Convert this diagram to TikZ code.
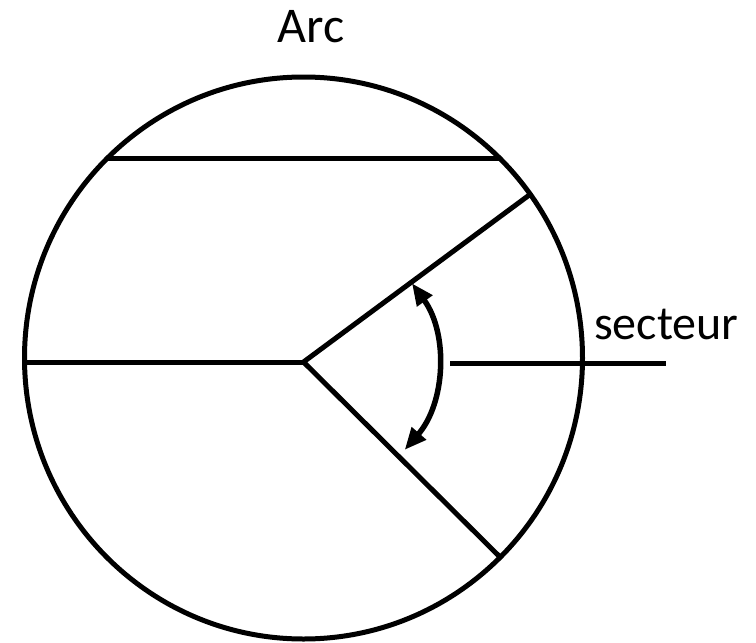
\documentclass[tikz,border=0pt]{standalone}
\usepackage{fontspec}
\setmainfont{Carlito}
\usetikzlibrary{arrows.meta}
\begin{document}
\begin{tikzpicture}[x=1pt,y=-1pt,
  stroke/.style={line width=5pt, line cap=butt},
  lbl/.style={font=\fontsize{50}{55}\selectfont, inner sep=0pt, anchor=base}]
\useasboundingbox (0,0) rectangle (756,643);
\coordinate (O) at (303.5,362);
\coordinate (C) at (303.5,358);
\draw[stroke] (C) ellipse [x radius=279, y radius=281];
\coordinate (L) at (25,362);
\coordinate (A1) at (106,158);
\coordinate (A2) at (501,158);
\coordinate (R1) at (532,193);
\coordinate (R2) at (501,558);
\coordinate (S1) at (450,363);
\coordinate (S2) at (666,363);
\draw[stroke] (A1) -- (A2);
\draw[stroke] (L) -- (O);
\draw[stroke, line join=miter] (R1) -- (O) -- (R2);
\draw[stroke] (S1) -- (S2);
\draw[line width=5.5pt, {Triangle[length=22pt,width=18pt]}-{Triangle[length=22pt,width=18pt]}]
  ([shift={(-36:134)}]O) arc[start angle=-36, end angle=41, radius=134];
\node[lbl] (arc) at (311,42) {Arc};
\node[lbl, font=\fontsize{48}{52}\selectfont, anchor=base west] (sect) at (594,339) {secteur};
\end{tikzpicture}
\end{document}
